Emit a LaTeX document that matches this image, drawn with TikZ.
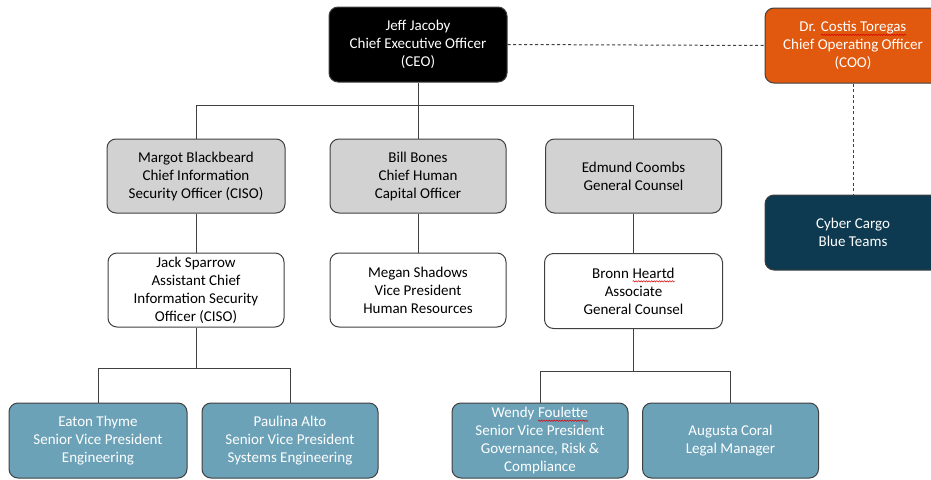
\documentclass[tikz,border=0pt]{standalone}
\usepackage{fontspec}
\setmainfont{Carlito}
\usetikzlibrary{decorations.pathmorphing}
\definecolor{ceoblack}{HTML}{000000}
\definecolor{cooorange}{HTML}{E0590F}
\definecolor{cargonavy}{HTML}{0D3A50}
\definecolor{execgray}{HTML}{D2D2D2}
\definecolor{staffblue}{HTML}{6BA2B8}
\definecolor{edgegray}{HTML}{404040}

% red wavy underline under a word
\newcommand\spellmark[1]{\tikz[baseline=(w.base), x=1pt, y=1pt, rounded corners=0pt, line width=0.5pt]{%
  \node[inner sep=0pt, outer sep=0pt, draw=none, fill=none, minimum size=0pt, anchor=base](w) at (0,0) {#1};
  \draw[red!85!black, decorate, decoration={snake, amplitude=0.7pt, segment length=2.6pt}]
  ([yshift=-3.2pt]w.base west) -- ([yshift=-3.2pt]w.base east);}}

\tikzset{
  orgbox/.style={draw=edgegray, line width=1pt, rounded corners=9pt, align=center,
    font=\fontsize{15}{18}\selectfont, inner sep=0pt,
    minimum width=176pt, minimum height=74pt},
  exec/.style={orgbox, fill=execgray, text=black},
  plain/.style={orgbox, fill=white, text=black},
  staff/.style={orgbox, fill=staffblue, text=white},
  link/.style={draw=edgegray, line width=1pt},
  dotted link/.style={link, dash pattern=on 3pt off 2.5pt},
}

\begin{document}
\begin{tikzpicture}[x=1pt,y=-1pt]
\useasboundingbox (0,0) rectangle (931,479);
\clip (0,0) rectangle (931,479);

% top level
\node[orgbox, fill=ceoblack, text=white, minimum width=178pt, minimum height=75pt] (ceo) at (418,44.5)
  {Jeff Jacoby\\Chief Executive Officer\\(CEO)};
\node[orgbox, fill=cooorange, text=white, minimum height=75pt] (coo) at (853,45.5)
  {Dr. \spellmark{Costis Toregas}\\Chief Operating Officer\\(COO)};
\node[orgbox, fill=cargonavy, text=white, minimum height=75pt] (cargo) at (853,232.5)
  {Cyber Cargo\\Blue Teams};

% executives
\node[exec, minimum width=178pt] (margot) at (196,176) {Margot Blackbeard\\Chief Information\\Security Officer (CISO)};
\node[exec] (bill) at (418,176) {Bill Bones\\Chief Human\\Capital Officer};
\node[exec] (edmund) at (633.5,176) {Edmund Coombs\\General Counsel};

% deputies
\node[plain] (jack) at (196,290) {Jack Sparrow\\Assistant Chief\\Information Security\\Officer (CISO)};
\node[plain] (megan) at (418,290) {Megan Shadows\\Vice President\\Human Resources};
\node[plain, minimum width=178pt, minimum height=75pt] (bronn) at (633.5,291) {Bronn \spellmark{Heartd}\\Associate\\General Counsel};

% staff
\node[staff, minimum width=178pt, minimum height=75pt] (eaton) at (98,440.5) {Eaton Thyme\\Senior Vice President\\Engineering};
\node[staff, minimum height=75pt] (paulina) at (290,440.5) {Paulina Alto\\Senior Vice President\\Systems Engineering};
\node[staff, minimum height=75pt] (wendy) at (540,440.5) {Wendy \spellmark{Foulette}\\Senior Vice President\\Governance, Risk \&\\Compliance};
\node[staff, minimum height=75pt] (augusta) at (730.5,440.5) {Augusta Coral\\Legal Manager};

% bus rows
\coordinate (busA) at (0,105);
\coordinate (busB) at (0,368);
\coordinate (busC) at (0,371);

% solid reporting lines
\draw[link] (ceo.south) -- (ceo.south |- busA);
\draw[link] (margot.north) -- (margot.north |- busA) -- (edmund.north |- busA) -- (edmund.north);
\draw[link] (bill.north) -- (bill.north |- busA);
\draw[link] (margot.south) -- (jack.north);
\draw[link] (bill.south) -- (megan.north);
\draw[link] (edmund.south) -- (bronn.north);
\draw[link] (jack.south) -- (jack.south |- busB);
\draw[link] (eaton.north) -- (eaton.north |- busB) -- (paulina.north |- busB) -- (paulina.north);
\draw[link] (bronn.south) -- (bronn.south |- busC);
\draw[link] (wendy.north) -- (wendy.north |- busC) -- (augusta.north |- busC) -- (augusta.north);

% dotted lines
\draw[dotted link] (ceo.east) -- (coo.west);
\draw[dotted link] (coo.south) -- (cargo.north);
\end{tikzpicture}
\end{document}
